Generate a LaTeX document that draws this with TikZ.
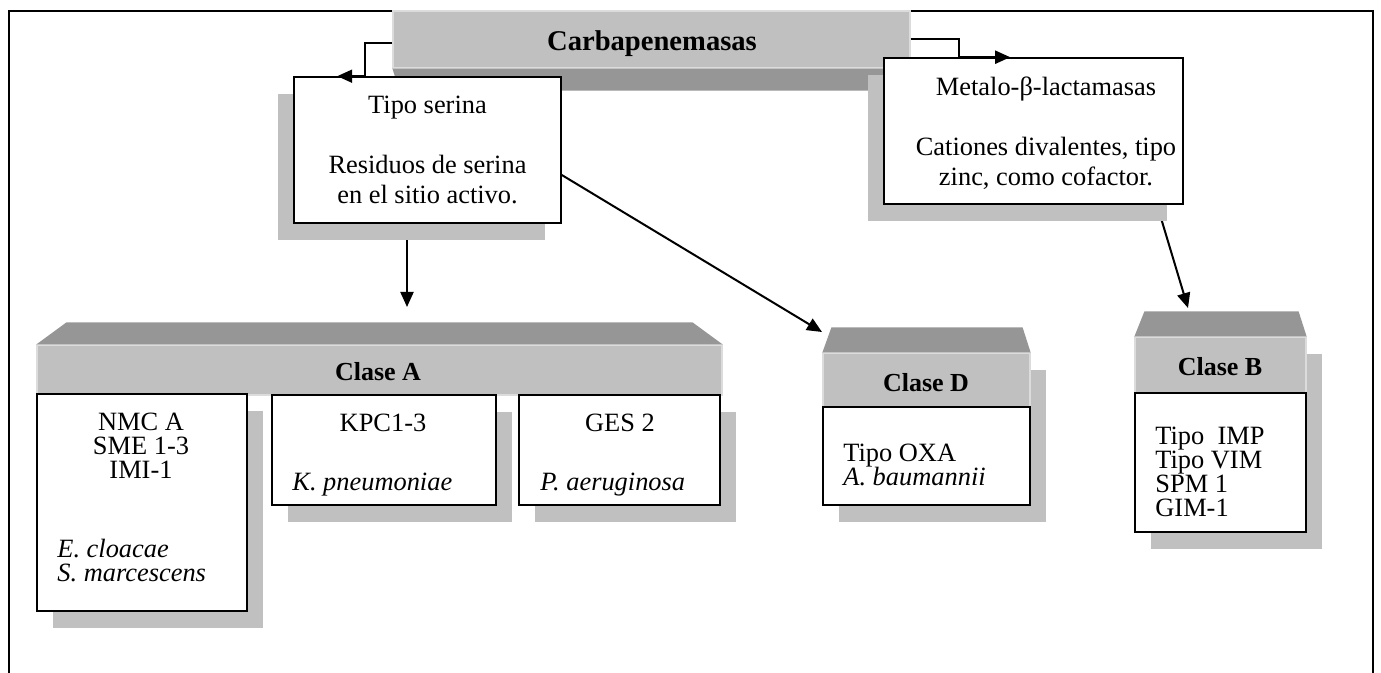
\documentclass[tikz,border=0pt]{standalone}
\usepackage{fontspec}
\setmainfont{Liberation Serif}
\usepackage{xcolor}
\usetikzlibrary{arrows.meta,shadows,backgrounds}
\definecolor{facegray}{HTML}{C0C0C0}
\definecolor{bevelgray}{HTML}{969696}
\definecolor{shadegray}{HTML}{C0C0C0}
\definecolor{edgegray}{HTML}{DCDCDC}
\lineskiplimit=-20pt

\begin{document}
\begin{tikzpicture}[x=0.5pt,y=-0.5pt,
  box/.style={draw,line width=0.8pt,fill=white,inner sep=0pt},
  face/.style={fill=facegray,draw=edgegray,line width=0.6pt,inner sep=0pt},
  shl/.style={drop shadow={shadow xshift=-8pt,shadow yshift=-8.5pt,fill=shadegray,opacity=1}},
  shr/.style={drop shadow={shadow xshift=8pt,shadow yshift=-8.5pt,fill=shadegray,opacity=1}},
  body/.style={font=\fontsize{13.2}{12}\selectfont,inner sep=0pt},
  head/.style={font=\bfseries\fontsize{13}{15}\selectfont,inner sep=0pt},
  conn/.style={line width=1pt,-{Triangle[length=7.5pt,width=6.5pt]}}]
\useasboundingbox (0,0) rectangle (1381,673);

% marco
\begin{pgfonlayer}{background}
  \draw[line width=0.7pt] (9,673) -- (9,11) -- (1373,11) -- (1373,673);
\end{pgfonlayer}

% Carbapenemasas
\node[face,minimum width=258.5pt,minimum height=28.5pt] (carb) at (651.5,39.5) {};
\fill[bevelgray] (carb.south west) -- (carb.south east) -- ++(4pt,-11pt)
  -- ([shift={(3.5pt,-11pt)}]carb.south west) -- cycle;
\node[head,font=\bfseries\fontsize{14.3}{16}\selectfont,anchor=base] (carbtxt) at (652,51) {Carbapenemasas};

% tipo serina / metalo
\node[box,shl,minimum width=133.5pt,minimum height=73pt,align=center,
  font=\fontsize{13.2}{15}\selectfont] (tipo) at (427.5,150)
  {Tipo serina\\[15pt]Residuos de serina\\en el sitio activo.};
\node[box,shl,minimum width=149.5pt,minimum height=73pt] (metalo) at (1033.5,131) {};
\node[body,align=center,font=\fontsize{13.2}{15}\selectfont] (metalotxt) at (1046,133)
  {Metalo-β-lactamasas\\[15pt]Cationes divalentes, tipo\\zinc, como cofactor.};

% Clase A
\node[face,minimum width=342.5pt,minimum height=25pt] (claseA) at (379.5,370) {};
\fill[bevelgray] (claseA.north west) -- ++(15pt,11pt)
  -- ([shift={(-15pt,11pt)}]claseA.north east) -- (claseA.north east) -- cycle;
\node[head,anchor=base] (claseAtxt) at (378,380.5) {Clase A};

\node[box,shr,minimum width=105pt,minimum height=108.5pt] (nmc) at (142,502.5) {};
\node[body,align=center] (nmctxt) at (141,446) {NMC A\\SME 1-3\\IMI-1};
\node[body,align=left,anchor=west] (nmcsp) at (57,561) {\textit{E. cloacae}\\\textit{S. marcescens}};

\node[box,shr,minimum width=112pt,minimum height=55pt] (kpc) at (384,450) {};
\node[body,anchor=base] (kpctxt) at (383,431) {KPC1-3};
\node[body,anchor=base west] (kpcsp) at (292,490) {\textit{K. pneumoniae}};

\node[box,shr,minimum width=100.5pt,minimum height=55pt] (ges) at (619.5,450) {};
\node[body,anchor=base] (gestxt) at (620,431) {GES 2};
\node[body,anchor=base west] (gessp) at (540,490) {\textit{P. aeruginosa}};

% Clase D
\node[face,shr,minimum width=103.5pt,minimum height=27pt] (claseD) at (926.5,380) {};
\fill[bevelgray] (claseD.north west) -- ++(4.5pt,12.5pt)
  -- ([shift={(-4pt,12.5pt)}]claseD.north east) -- (claseD.north east) -- cycle;
\node[head,anchor=base] (claseDtxt) at (926,391.5) {Clase D};
\node[box,shr,minimum width=103.5pt,minimum height=49pt] (oxa) at (926.5,456) {};
\node[body,align=left,anchor=west] (oxatxt) at (843,465) {Tipo OXA\\\textit{A. baumannii}};

% Clase B
\node[face,shr,minimum width=85.5pt,minimum height=28pt] (claseB) at (1220.5,365) {};
\fill[bevelgray] (claseB.north west) -- ++(5pt,12.5pt)
  -- ([shift={(-4pt,12.5pt)}]claseB.north east) -- (claseB.north east) -- cycle;
\node[head,anchor=base] (claseBtxt) at (1220,375.5) {Clase B};
\node[box,shr,minimum width=85.5pt,minimum height=69.5pt] (imp) at (1220.5,462.5) {};
\node[body,align=left,anchor=west] (imptxt) at (1155,472) {Tipo\ \ IMP\\Tipo VIM\\SPM 1\\GIM-1};

% flechas
\coordinate (atip) at (407,307);
\coordinate (dtip) at (822,332);
\coordinate (btip) at (1188,308);
\begin{pgfonlayer}{background}
  \draw[conn] ([xshift=-10.25pt]tipo.south) -- (atip);
  \draw[conn] ([xshift=61.75pt]metalo.south) -- (btip);
\end{pgfonlayer}
\draw[conn] ([yshift=-1.75pt]carb.west) -- ++(-13.5pt,0) |- ([xshift=22pt]tipo.north west);
\draw[conn] (carb.east) -- ++(24pt,0) |- ([xshift=63.5pt]metalo.north west);
\draw[conn] ([yshift=-12.5pt]tipo.east) -- (dtip);
\end{tikzpicture}
\end{document}
